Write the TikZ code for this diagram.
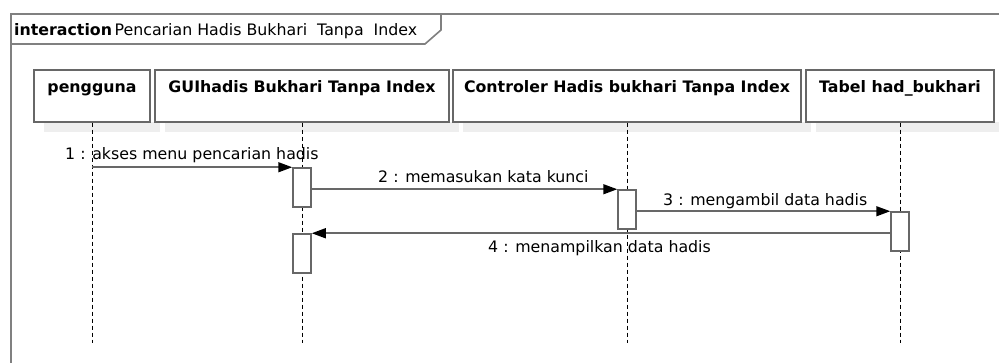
\documentclass[tikz,border=0pt]{standalone}
\usepackage{fontspec}
\setmainfont{DejaVu Sans}
\usetikzlibrary{arrows.meta}
\definecolor{framegray}{HTML}{808080}
\definecolor{boxgray}{HTML}{676767}
\definecolor{shadowgray}{HTML}{EEEEEE}
\definecolor{linegray}{HTML}{686868}
\tikzset{
  frameline/.style={draw=framegray,line width=1.6pt},
  objbox/.style={draw=boxgray,line width=1.5pt,fill=white,rectangle,
    font=\fontsize{15.8}{17}\selectfont\bfseries,inner xsep=2pt,inner ysep=4pt,
    text height=19pt,text depth=25pt},
  shadowbar/.style={fill=shadowgray,draw=none},
  lifeline/.style={draw=black,line width=0.8pt,dash pattern=on 4pt off 3pt},
  actbox/.style={draw=boxgray,line width=1.5pt,fill=white,rectangle,
    minimum width=18pt,minimum height=39pt,inner sep=0pt},
  msg/.style={draw=linegray,line width=1.5pt,
    -{Triangle[length=14pt,width=10pt,fill=black,color=black]}},
  lbl/.style={font=\fontsize{15.8}{17}\selectfont,inner sep=0pt,anchor=base west},
}
\begin{document}
\begin{tikzpicture}[x=1pt,y=-1pt]
\useasboundingbox (0,0) rectangle (999,363);
% frame
\draw[frameline] (11,370) -- (11,14) -- (1010,14);
\draw[frameline] (11,44) -- (425,44) -- (441,30) -- (441,14);
\node[lbl] (title) at (14,36) {\textbf{interaction}\,Pencarian Hadis Bukhari\ \ Tanpa\ \ Index};
% shadows
\fill[shadowgray] (44,122) rectangle (160,132);
\fill[shadowgray] (165,122) rectangle (459,132);
\fill[shadowgray] (463,122) rectangle (811,132);
\fill[shadowgray] (816,122) rectangle (999,132);
% objects
\node[objbox,minimum width=116pt] (p) at (92,96) {pengguna};
\node[objbox,minimum width=294pt] (g) at (302,96) {GUIhadis Bukhari Tanpa Index};
\node[objbox,minimum width=348pt] (c) at (627,96) {Controler Hadis bukhari Tanpa Index};
\node[objbox,minimum width=188pt] (t) at (900,96) {Tabel had\_bukhari};
% lifeline ends
\coordinate (pe) at (92,343);
\coordinate (ge) at (302,343);
\coordinate (ce) at (627,343);
\coordinate (te) at (900,343);
\draw[lifeline] (p.south) -- (pe);
\draw[lifeline] (g.south) -- (ge);
\draw[lifeline] (c.south) -- (ce);
\draw[lifeline] (t.south) -- (te);
% activations
\node[actbox] (a1) at (302,187.5) {};
\node[actbox] (a2) at (627,209.5) {};
\node[actbox] (a3) at (900,231.5) {};
\node[actbox] (a4) at (302,253.5) {};
% messages
\draw[msg] (p.south |- a1.north) -- (a1.north west);
\draw[msg] (a1.east |- a2.north) -- (a2.north west);
\draw[msg] (a2.east |- a3.north) -- (a3.north west);
\draw[msg] (a3.west |- a4.north) -- (a4.north east);
% labels
\node[lbl] (l1) at (65,160) {1 : akses menu pencarian hadis};
\node[lbl] (l2) at (378,183) {2 : memasukan kata kunci};
\node[lbl] (l3) at (663,206) {3 : mengambil data hadis};
\node[lbl] (l4) at (488,253) {4 : menampilkan data hadis};
\end{tikzpicture}
\end{document}
